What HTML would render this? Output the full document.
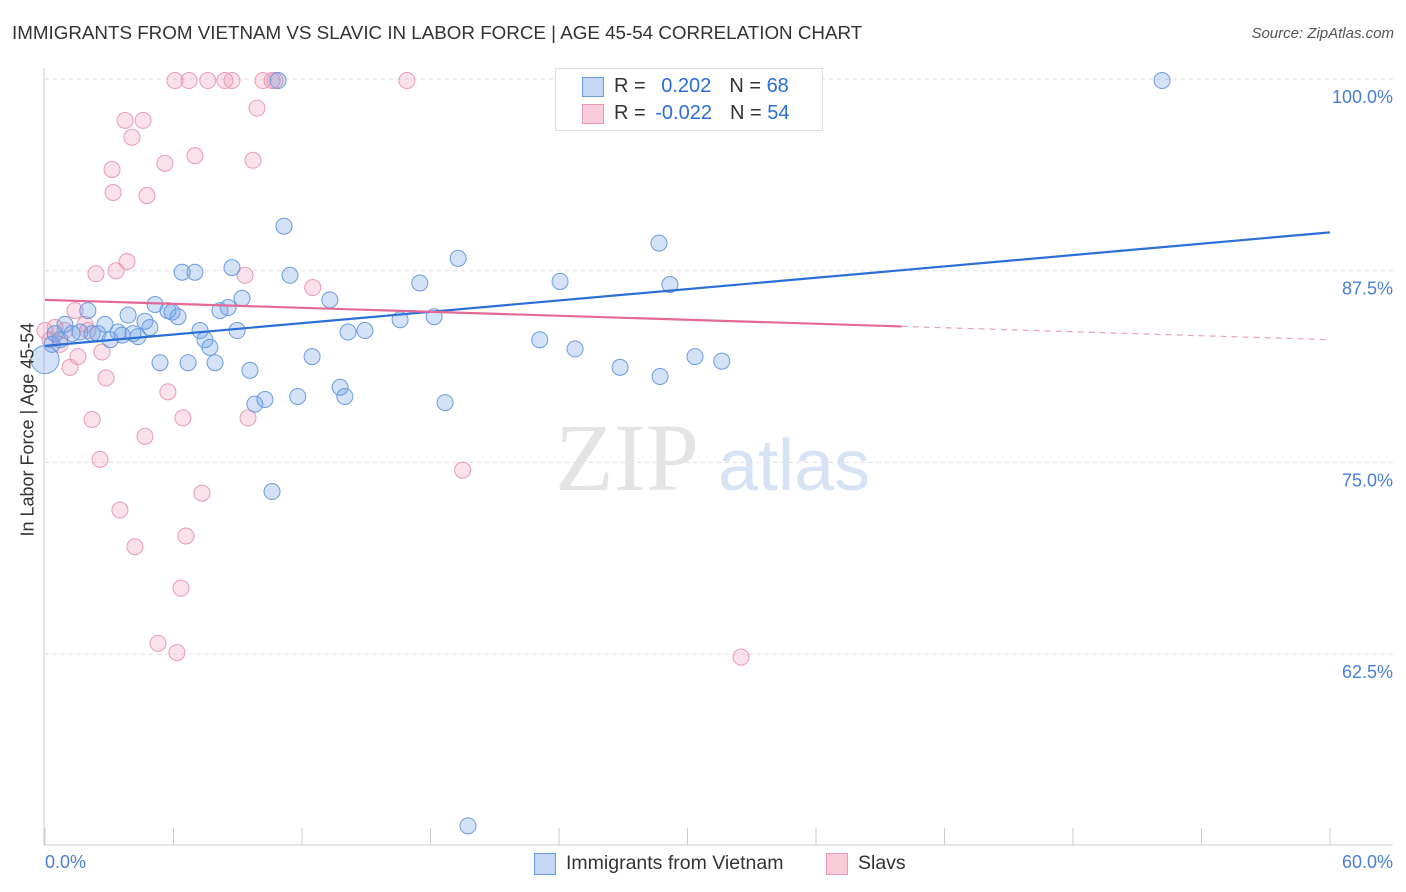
<!DOCTYPE html>
<html><head><meta charset="utf-8">
<style>
body{margin:0;background:#fff;font-family:"Liberation Sans",sans-serif;}
#wrap{position:relative;width:1406px;height:892px;overflow:hidden;}
.t{position:absolute;white-space:nowrap;}
</style></head>
<body>
<div id="wrap">
<div class="t" style="left:12px;top:22px;font-size:18.8px;color:#333;">IMMIGRANTS FROM VIETNAM VS SLAVIC IN LABOR FORCE | AGE 45-54 CORRELATION CHART</div>
<div class="t" style="right:12px;top:25px;font-size:15px;color:#555;font-style:italic;">Source: ZipAtlas.com</div>
<svg id="svg" width="1406" height="892" style="position:absolute;left:0;top:0"></svg>
</div>
<script>
const blueX=[0,0.33,0.47,0.7,0.93,1.26,1.63,2.0,2.2,2.47,2.8,3.04,3.41,3.6,3.88,4.11,4.34,4.67,4.9,5.14,5.37,5.74,5.93,6.21,6.4,6.68,7.0,7.24,7.47,7.7,7.94,8.17,8.55,8.73,8.97,9.2,9.57,9.8,10.27,10.6,10.88,11.16,11.44,11.8,12.47,13.3,13.78,14.0,14.15,14.94,16.58,17.5,18.17,18.68,19.29,19.75,23.1,24.05,24.75,25.08,26.85,28.67,28.72,29.18,30.35,31.6,52.16];
const blueY=[81.7,82.7,83.4,83.0,84.0,83.4,83.5,84.9,83.4,83.4,84.0,83.0,83.5,83.3,84.6,83.4,83.2,84.2,83.8,85.3,81.5,84.9,84.8,84.5,87.4,81.5,87.4,83.6,83.0,82.5,81.5,84.9,85.1,87.7,83.6,85.7,81.0,78.8,79.1,73.1,99.9,90.4,87.2,79.3,81.9,85.6,79.9,79.3,83.5,83.6,84.3,86.7,84.5,78.9,88.3,51.3,83.0,86.8,82.4,99.9,81.2,89.3,80.6,86.6,81.9,81.6,99.9];
const pinkX=[0,0.23,0.47,0.7,0.93,1.17,1.4,1.54,1.87,2.0,2.2,2.38,2.57,2.66,2.85,3.13,3.18,3.32,3.5,3.74,3.83,4.06,4.2,4.58,4.67,4.76,5.28,5.6,5.74,6.07,6.16,6.35,6.44,6.58,6.72,7.0,7.33,7.6,8.4,8.73,9.34,9.48,9.71,9.9,10.18,10.6,10.74,12.5,16.9,19.5,32.5];
const pinkY=[83.6,83.0,83.8,82.7,83.6,81.2,84.9,81.9,84.0,83.6,77.8,87.3,75.2,82.2,80.5,94.1,92.6,87.5,71.9,97.3,88.1,96.2,69.5,97.3,76.7,92.4,63.2,94.5,79.6,99.9,62.6,66.8,77.9,70.2,99.9,95.0,73.0,99.9,99.9,99.9,87.2,77.9,94.7,98.1,99.9,99.9,99.9,86.4,99.9,74.5,62.3];
const yTicks=[100,87.5,75,62.5];
const yTickLabels=["100.0%","87.5%","75.0%","62.5%"];
const blueTrend=[82.6,90.0];
const pinkTrend=[85.6,83.0];
const NS="http://www.w3.org/2000/svg";
const svg=document.getElementById('svg');
const xs=v=>45+v/60*1285;
const ys=v=>79+(100-v)/12.5*191.7;
function mk(tag,attrs){const e=document.createElementNS(NS,tag);for(const k in attrs)e.setAttribute(k,attrs[k]);svg.appendChild(e);return e;}
yTicks.forEach((t,i)=>{
 const g=mk('line',{x1:45,x2:1393,y1:ys(t),y2:ys(t),stroke:'#ddd','stroke-dasharray':'4,4'});
 
 
 const tx=mk('text',{x:1393,y:ys(t)+24,'text-anchor':'end',fill:'#4a7fd6','font-size':18,'font-family':'Liberation Sans'});
 tx.textContent=yTickLabels[i];
 
 
});
mk('line',{x1:44,x2:44,y1:68,y2:845,stroke:'#ccc'});
mk('line',{x1:44,x2:1393,y1:845,y2:845,stroke:'#ccc'});
for(let i=0;i<=10;i++){const l=mk('line',{x1:xs(i*6),x2:xs(i*6),y1:828,y2:845,stroke:'#ccc'});}
const w1=mk('text',{x:555,y:490,fill:'#e4e4e4','font-size':96,'font-family':'Liberation Serif'});w1.textContent='ZIP';

const w2=mk('text',{x:718,y:490,fill:'#d6e3f5','font-size':72,'font-family':'Liberation Sans'});w2.textContent='atlas';

function pts(X,Y,fill,stroke,name){
 X.forEach((x,i)=>{
  const c=mk('circle',{cx:xs(x),cy:ys(Y[i]),r:(i===0&&name==='blue-point')?14:8,fill:fill,stroke:stroke,'stroke-width':1});
  
  
 });
}
pts(pinkX,pinkY,'rgba(240,150,180,0.28)','#e99ab5','pink-point');
pts(blueX,blueY,'rgba(110,160,230,0.3)','#6a9be0','blue-point');
const bl=mk('line',{x1:xs(0),y1:ys(blueTrend[0]),x2:xs(60),y2:ys(blueTrend[1]),stroke:'#2b6fd6','stroke-width':2.2});

const px40=pinkTrend[0]+(pinkTrend[1]-pinkTrend[0])*40/60;
const pl=mk('line',{x1:xs(0),y1:ys(pinkTrend[0]),x2:xs(40),y2:ys(px40),stroke:'#e36a95','stroke-width':2.2});

const pd=mk('line',{x1:xs(40),y1:ys(px40),x2:xs(60),y2:ys(pinkTrend[1]),stroke:'#e9a0ba','stroke-width':1.2,'stroke-dasharray':'6,5'});

</script>
<div class="t" style="left:45px;top:852px;font-size:18px;color:#4a7fd6;">0.0%</div>
<div class="t" style="right:13px;top:852px;font-size:18px;color:#4a7fd6;">60.0%</div>
<div class="t" style="left:-52px;top:446px;font-size:18px;color:#333;transform:rotate(-90deg);width:160px;text-align:center;">In Labor Force | Age 45-54</div>
<div style="position:absolute;left:555px;top:68px;width:266px;height:61px;border:1px solid #ddd;background:#fff;font-size:20px;">
 <div style="position:absolute;left:26px;top:8px;width:20px;height:18px;background:#c4d8f5;border:1px solid #6a9be0;"></div>
 <div class="t" style="left:58px;top:6px;color:#333;">R = <span style="color:#2b6fd6;margin-left:10px">0.202</span><span style="margin-left:18px">N = </span><span style="color:#2b6fd6">68</span></div>
 <div style="position:absolute;left:26px;top:35px;width:20px;height:18px;background:#f8cdd9;border:1px solid #e99ab5;"></div>
 <div class="t" style="left:58px;top:33px;color:#333;">R = <span style="color:#2b6fd6;margin-left:4px">-0.022</span><span style="margin-left:18px">N = </span><span style="color:#2b6fd6">54</span></div>
</div>
<div style="position:absolute;left:534px;top:853px;width:20px;height:20px;background:#c4d8f5;border:1px solid #6a9be0;"></div>
<div class="t" style="left:566px;top:852px;font-size:19.5px;color:#333;">Immigrants from Vietnam</div>
<div style="position:absolute;left:826px;top:853px;width:20px;height:20px;background:#f8cdd9;border:1px solid #e99ab5;"></div>
<div class="t" style="left:858px;top:852px;font-size:19.5px;color:#333;">Slavs</div>
</body></html>
